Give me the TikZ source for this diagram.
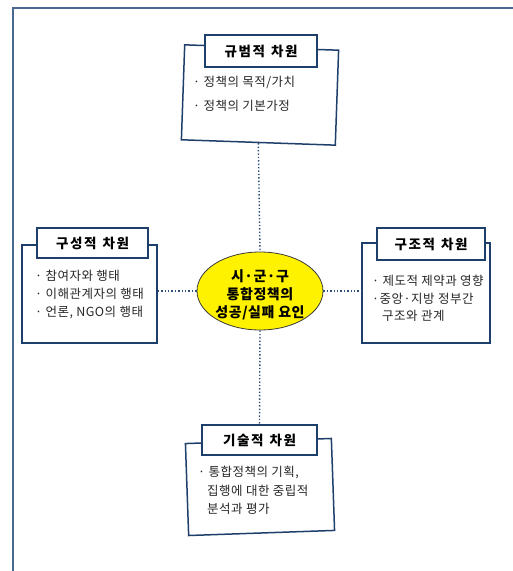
\documentclass[tikz,border=0pt]{standalone}
\usepackage{fontspec}
\newfontfamily\kr{Noto Sans CJK KR}
\newfontfamily\krs{Noto Sans CJK KR}[LetterSpace=4]
\newfontfamily\krt{Noto Sans CJK KR}[LetterSpace=12]
\usetikzlibrary{shapes.geometric}
\definecolor{boxblue}{HTML}{1F3F6B}
\definecolor{frameblue}{HTML}{4A6890}
\definecolor{dotblue}{HTML}{2E4E7A}
\definecolor{ellgray}{HTML}{3A3A3A}
\tikzset{
  bigbox/.style={draw=boxblue, line width=1.5pt, fill=white, inner sep=0pt},
  titlebox/.style={draw=boxblue, line width=1.5pt, fill=white, inner sep=0pt,
    font=\krt\bfseries\fontsize{13.5}{15}\selectfont},
  body/.style={anchor=base west, inner sep=0pt, font=\krs\fontsize{12.5}{14}\selectfont, text=black!85},
  link/.style={draw=dotblue, line width=1.4pt, dotted},
  framel/.style={draw=frameblue, line width=1.3pt}
}
\begin{document}
\begin{tikzpicture}[x=1pt,y=1pt]
\useasboundingbox (0,0) rectangle (513,571);
% outer frame (top and left edges)
\coordinate (fbl) at (13,0);
\coordinate (ftl) at (13,563);
\coordinate (ftr) at (513,563);
\draw[framel] (fbl) -- (ftl) -- (ftr);

% centre ellipse
\node[ellipse, draw=ellgray, line width=0.8pt, fill=yellow, minimum width=126pt, minimum height=78pt, inner sep=0pt] (ell) at (260,280) {};
\node[font=\krs\bfseries\fontsize{14}{18}\selectfont, align=center, inner sep=0pt] (elltxt) at (260,276) {시·군·구\\통합정책의\\성공/실패 요인};

% top box
\node[bigbox, minimum width=154pt, minimum height=95pt, rotate=-2] (topbox) at (260,476) {};
\node[titlebox, minimum width=112pt, minimum height=32pt] (toptitle) at (261,520) {규범적\hspace{6pt}차원};
\node[body] (t1) at (193,484) {· 정책의 목적/가치};
\node[body] (t2) at (193,460) {· 정책의 기본가정};

% left box
\node[bigbox, minimum width=135pt, minimum height=98pt] (leftbox) at (89.5,277) {};
\node[titlebox, minimum width=111pt, minimum height=30pt] (lefttitle) at (92.5,328) {구성적\hspace{6pt}차원};
\node[body] (l1) at (35,290) {· 참여자와 행태};
\node[body] (l2) at (35,272) {· 이해관계자의 행태};
\node[body] (l3) at (35,254) {· 언론, NGO의 행태};

% right box
\node[bigbox, minimum width=128pt, minimum height=100pt] (rightbox) at (426,278) {};
\node[titlebox, minimum width=108pt, minimum height=32pt] (righttitle) at (431,327) {구조적\hspace{6pt}차원};
\node[body] (r1) at (372,285) {· 제도적 제약과 영향};
\node[body] (r2) at (372,267) {·중앙·지방 정부간};
\node[body] (r3) at (382,250) {구조와 관계};

% bottom box
\node[bigbox, minimum width=146pt, minimum height=92pt, rotate=2] (botbox) at (260,84) {};
\node[titlebox, minimum width=115pt, minimum height=30pt] (bottitle) at (259.5,131) {기술적\hspace{6pt}차원};
\node[body] (b1) at (198,94) {· 통합정책의 기획,};
\node[body] (b2) at (207,75) {집행에 대한 중립적};
\node[body] (b3) at (207,57) {분석과 평가};

% connectors
\draw[link] (topbox.south) -- (ell.north);
\draw[link] (ell.south) -- (bottitle.north);
\draw[link] (ell.west -| leftbox.east) -- (ell.west);
\draw[link] (ell.east) -- (ell.east -| rightbox.west);
\end{tikzpicture}
\end{document}
